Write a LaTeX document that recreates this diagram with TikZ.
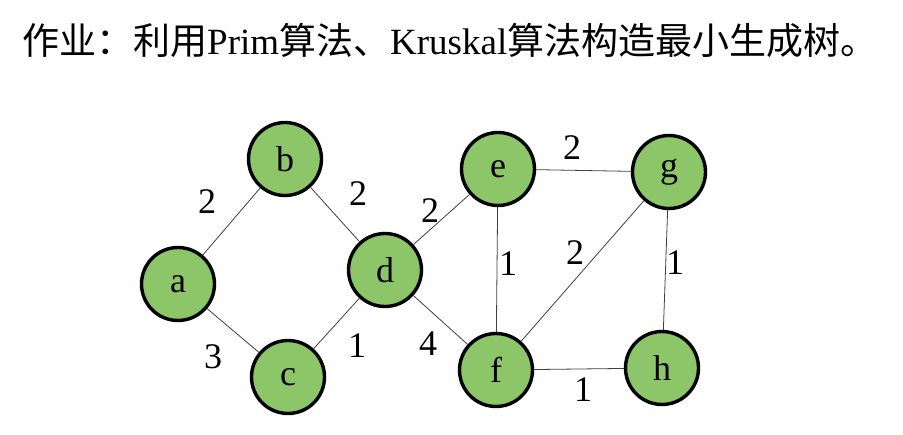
\documentclass[tikz,border=0pt]{standalone}
\usepackage{fontspec}
\setmainfont{Liberation Serif}
\newfontfamily\cjk{Noto Sans CJK SC}
\definecolor{nodegreen}{RGB}{141,198,104}
\begin{document}
\begin{tikzpicture}[x=1pt,y=-1pt,
  vtx/.style={circle,draw=black,line width=3.4pt,fill=nodegreen,minimum size=73pt,inner sep=0pt,font=\fontsize{36}{36}\selectfont},
  edge/.style={draw=black!75,line width=0.8pt},
  wlab/.style={inner sep=0pt,font=\fontsize{36}{36}\selectfont}]
\useasboundingbox (0,0) rectangle (903,435);
\node[anchor=west,inner sep=0pt,font=\fontsize{37}{37}\selectfont] (title) at (22,40)
  {{\cjk 作业：利用}Prim{\cjk 算法、}Kruskal{\cjk 算法构造最小生成树。}};
\node[vtx] (a) at (178,284) {a};
\node[vtx] (b) at (285,159) {b};
\node[vtx] (c) at (288,377) {c};
\node[vtx] (d) at (385,270) {d};
\node[vtx] (e) at (498,169) {e};
\node[vtx] (g) at (669,172) {g};
\node[vtx] (f) at (496,370) {f};
\node[vtx] (h) at (662,368) {h};
\path[edge] (a) -- (b) (b) -- (d) (a) -- (c) (c) -- (d) (d) -- (e) (d) -- (f)
  (e) -- (f) (e) -- (g) (f) -- (g) (g) -- (h) (f) -- (h);
\node[wlab] (lab) at (207,202) {2};
\node[wlab] (lbd) at (358,194) {2};
\node[wlab] (lde) at (430,211) {2};
\node[wlab] (lac) at (213,357) {3};
\node[wlab] (lcd) at (357,346) {1};
\node[wlab] (ldf) at (428,344) {4};
\node[wlab] (lef) at (508,264) {1};
\node[wlab] (leg) at (572,148) {2};
\node[wlab] (lfg) at (575,253) {2};
\node[wlab] (lgh) at (675,263) {1};
\node[wlab] (lfh) at (583,390) {1};
\end{tikzpicture}
\end{document}
